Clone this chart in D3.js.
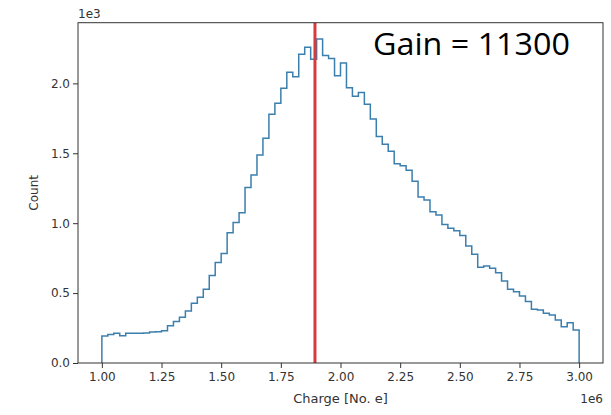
<!DOCTYPE html>
<html>
<head>
<meta charset="utf-8">
<script src="https://cdn.jsdelivr.net/npm/d3@7"></script>
<style>
  body { margin: 0; background: #fff; }
  text { font-family: "DejaVu Sans", sans-serif; fill: #333; }
</style>
</head>
<body>
<svg id="chart" width="611" height="415"></svg>
<script>
// histogram: 80 bins of 0.025e6 from 1.0e6 to 3.0e6
var binStart = 1.0e6;
var binWidth = 0.025e6;
var counts = [
  193, 203, 212, 195, 212, 212, 212, 215, 222, 224,
  231, 267, 296, 327, 372, 427, 470, 527, 625, 718,
  784, 932, 1004, 1075, 1256, 1345, 1488, 1607, 1779, 1858,
  1965, 2079, 2048, 2208, 2258, 2172, 2318, 2200, 2178, 2055,
  2145, 1968, 1908, 1935, 1850, 1745, 1620, 1565, 1515, 1425,
  1410, 1378, 1300, 1188, 1166, 1082, 1059, 990, 963, 946,
  912, 837, 778, 685, 694, 677, 646, 587, 527, 510,
  479, 439, 384, 379, 355, 343, 308, 260, 288, 236
];
var gainCharge = 1.893e6;
var gainLabel = "Gain = 11300";
var xTicks = [1.0e6, 1.25e6, 1.5e6, 1.75e6, 2.0e6, 2.25e6, 2.5e6, 2.75e6, 3.0e6];
var yTicks = [0, 500, 1000, 1500, 2000];

var svg = d3.select("#chart");
var margin = { top: 22.7, right: 8, bottom: 52, left: 78 };
var width = 611 - margin.left - margin.right;
var height = 415 - margin.top - margin.bottom;

var binEnd = binStart + binWidth * counts.length;
var pad = (binEnd - binStart) * 0.05;
var x = d3.scaleLinear().domain([binStart - pad, binEnd + pad]).range([0, width]);
var y = d3.scaleLinear().domain([0, d3.max(counts) * 1.05]).range([height, 0]);

var g = svg.append("g").attr("transform", "translate(" + margin.left + "," + margin.top + ")");

// step outline
var pts = [[binStart, 0]];
counts.forEach(function(c, i) { pts.push([binStart + i * binWidth, c]); });
pts.push([binEnd, counts[counts.length - 1]]);
pts.push([binEnd, 0]);

var line = d3.line()
    .x(function(d) { return x(d[0]); })
    .y(function(d) { return y(d[1]); })
    .curve(d3.curveStepAfter);

g.append("path")
    .datum(pts)
    .attr("d", line)
    .attr("fill", "none")
    .attr("stroke", "#3b7fae")
    .attr("stroke-width", 1.5);

// red gain marker
g.append("line")
    .attr("x1", x(gainCharge)).attr("x2", x(gainCharge))
    .attr("y1", 0).attr("y2", height)
    .attr("stroke", "#d83b3b")
    .attr("stroke-width", 3);

// axes
var xAxis = g.append("g")
    .attr("transform", "translate(0," + height + ")")
    .call(d3.axisBottom(x).tickValues(xTicks).tickSize(5).tickPadding(4)
        .tickFormat(function(d) { return (d / 1e6).toFixed(2); }));
var yAxis = g.append("g")
    .call(d3.axisLeft(y).tickValues(yTicks).tickSize(5).tickPadding(3)
        .tickFormat(function(d) { return (d / 1e3).toFixed(1); }));

[xAxis, yAxis].forEach(function(a) {
    a.select(".domain").remove();
    a.selectAll(".tick line").attr("stroke", "#333").attr("stroke-width", 1);
    a.selectAll(".tick text").style("font-size", "12px").attr("fill", "#333");
});

g.append("rect")
    .attr("width", width).attr("height", height)
    .attr("fill", "none")
    .attr("stroke", "#333")
    .attr("stroke-width", 1);

// offset labels
g.append("text").attr("x", 0).attr("y", -5).style("font-size", "12px").text("1e3");
g.append("text").attr("x", width).attr("y", height + 40)
    .attr("text-anchor", "end").style("font-size", "12px").text("1e6");

// axis titles
g.append("text")
    .attr("x", width / 2).attr("y", height + 40)
    .attr("text-anchor", "middle").style("font-size", "13px")
    .text("Charge [No. e]");
g.append("text")
    .attr("transform", "translate(-40," + (height / 2) + ") rotate(-90)")
    .attr("text-anchor", "middle").style("font-size", "12px")
    .text("Count");

// annotation
svg.append("text")
    .attr("x", 373).attr("y", 55)
    .attr("textLength", 197)
    .attr("lengthAdjust", "spacingAndGlyphs")
    .style("font-family", "'Open Sans', sans-serif")
    .style("font-size", "31px")
    .style("fill", "#000")
    .text(gainLabel);
</script>
</body>
</html>
